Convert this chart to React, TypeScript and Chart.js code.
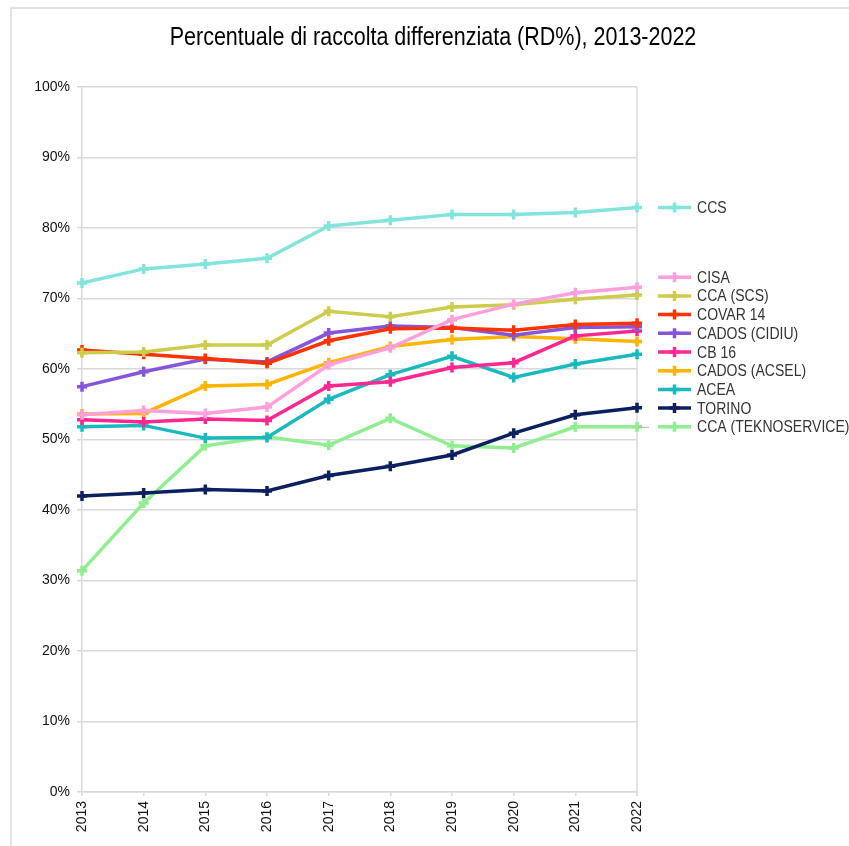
import React, { useEffect, useRef } from 'react';
import { Chart, registerables } from 'chart.js';

Chart.register(...registerables);

const TITLE = 'Percentuale di raccolta differenziata (RD%), 2013-2022';
const YEARS = ['2013', '2014', '2015', '2016', '2017', '2018', '2019', '2020', '2021', '2022'];
const Y_MIN = 0;
const Y_MAX = 100;
const Y_STEP = 10;

const CCS = [72.2, 74.2, 74.9, 75.7, 80.3, 81.1, 81.9, 81.9, 82.2, 82.9];
const CISA = [53.5, 54.1, 53.7, 54.6, 60.6, 63.0, 67.0, 69.2, 70.8, 71.6];
const CCA_SCS = [62.3, 62.4, 63.4, 63.4, 68.2, 67.4, 68.8, 69.1, 69.9, 70.5];
const COVAR_14 = [62.7, 62.1, 61.5, 60.8, 64.0, 65.7, 65.8, 65.5, 66.3, 66.5];
const CADOS_CIDIU = [57.5, 59.6, 61.4, 61.0, 65.1, 66.1, 65.9, 64.8, 65.9, 66.0];
const CB_16 = [52.8, 52.5, 52.9, 52.7, 57.6, 58.2, 60.2, 60.9, 64.7, 65.4];
const CADOS_ACSEL = [53.6, 53.7, 57.6, 57.8, 60.9, 63.2, 64.2, 64.6, 64.3, 63.9];
const ACEA = [51.8, 52.0, 50.2, 50.3, 55.7, 59.2, 61.8, 58.8, 60.7, 62.1];
const TORINO = [42.0, 42.4, 42.9, 42.7, 44.9, 46.2, 47.8, 50.9, 53.5, 54.5];
const CCA_TEKNOSERVICE = [31.4, 41.0, 49.1, 50.4, 49.2, 53.0, 49.1, 48.8, 51.8, 51.8];

const SERIES_NAMES = [
  'CCS',
  'CISA',
  'CCA (SCS)',
  'COVAR 14',
  'CADOS (CIDIU)',
  'CB 16',
  'CADOS (ACSEL)',
  'ACEA',
  'TORINO',
  'CCA (TEKNOSERVICE)',
];
const SERIES_VALUES = [
  CCS,
  CISA,
  CCA_SCS,
  COVAR_14,
  CADOS_CIDIU,
  CB_16,
  CADOS_ACSEL,
  ACEA,
  TORINO,
  CCA_TEKNOSERVICE,
];
const SERIES_COLORS = [
  '#83e4dc',
  '#ffa0dc',
  '#cccc4d',
  '#ff3300',
  '#8456d9',
  '#ff2890',
  '#ffb400',
  '#1ab9be',
  '#0c2060',
  '#90ee90',
];
const LEADER_SERIES = 'CCA (TEKNOSERVICE)';

export default function App() {
  const canvasRef = useRef<HTMLCanvasElement | null>(null);

  useEffect(() => {
    const canvas = canvasRef.current;
    if (!canvas) return;

    const family = '"Liberation Sans", Arial, sans-serif';
    const titleSize = 25;
    const titleSquash = 0.86;
    const tickSize = 14;
    const labelSize = 16.5;
    const labelSquash = 0.85;
    const gridColor = '#d9d9d9';

    const squashedText = (
      ctx: CanvasRenderingContext2D,
      text: string,
      x: number,
      y: number,
      sx: number,
    ) => {
      ctx.save();
      ctx.translate(x, y);
      ctx.scale(sx, 1);
      ctx.fillText(text, 0, 0);
      ctx.restore();
    };

    const framePlugin = {
      id: 'frameAndTitle',
      beforeDraw(chart: any) {
        const ctx = chart.ctx;
        ctx.save();
        ctx.fillStyle = '#ffffff';
        ctx.fillRect(0, 0, chart.width, chart.height);
        ctx.strokeStyle = gridColor;
        ctx.lineWidth = 1.5;
        ctx.beginPath();
        ctx.moveTo(11, chart.height);
        ctx.lineTo(11, 8);
        ctx.lineTo(chart.width, 8);
        ctx.stroke();
        ctx.fillStyle = '#000000';
        ctx.font = `${titleSize}px ${family}`;
        ctx.textAlign = 'center';
        ctx.textBaseline = 'alphabetic';
        squashedText(ctx, TITLE, 433, 45, titleSquash);
        ctx.restore();
      },
      beforeDatasetsDraw(chart: any) {
        const ctx = chart.ctx;
        const a = chart.chartArea;
        ctx.save();
        ctx.strokeStyle = gridColor;
        ctx.lineWidth = 1.5;
        ctx.beginPath();
        ctx.moveTo(a.right, a.top);
        ctx.lineTo(a.right, a.bottom + 4);
        ctx.stroke();
        ctx.restore();
      },
    };

    const drawCross = (ctx: CanvasRenderingContext2D, x: number, y: number, r: number) => {
      ctx.beginPath();
      ctx.moveTo(x - r, y);
      ctx.lineTo(x + r, y);
      ctx.moveTo(x, y - r);
      ctx.lineTo(x, y + r);
      ctx.stroke();
    };

    const endLabels = {
      id: 'endLabels',
      afterDatasetsDraw(chart: any) {
        const ctx: CanvasRenderingContext2D = chart.ctx;
        const yScale = chart.scales.y;
        const a = chart.chartArea;
        const spacing = 18.7;
        const gap = 45;
        const items = chart.data.datasets.map((ds: any) => ({
          label: ds.label as string,
          color: ds.borderColor as string,
          ideal: yScale.getPixelForValue(ds.data[ds.data.length - 1]),
          y: 0,
        }));
        items.sort((p: any, q: any) => q.ideal - p.ideal);
        let prev: number | null = null;
        for (const it of items) {
          if (prev === null) {
            it.y = it.ideal;
          } else {
            const stacked = prev - spacing;
            it.y = stacked - it.ideal > gap ? it.ideal : stacked;
          }
          prev = it.y;
        }
        ctx.save();
        for (const it of items) {
          if (it.label === LEADER_SERIES) {
            ctx.strokeStyle = '#b0b0b0';
            ctx.lineWidth = 1;
            ctx.beginPath();
            ctx.moveTo(a.right, it.y + 0.5);
            ctx.lineTo(a.right + 12, it.y + 0.5);
            ctx.stroke();
          }
          const x0 = a.right + 21;
          const x1 = a.right + 54;
          ctx.strokeStyle = it.color;
          ctx.lineWidth = 3.5;
          ctx.lineCap = 'butt';
          ctx.beginPath();
          ctx.moveTo(x0, it.y);
          ctx.lineTo(x1, it.y);
          ctx.stroke();
          drawCross(ctx, (x0 + x1) / 2, it.y, 5);
          ctx.fillStyle = '#333333';
          ctx.font = `${labelSize}px ${family}`;
          ctx.textAlign = 'left';
          ctx.textBaseline = 'middle';
          squashedText(ctx, it.label, a.right + 60, it.y + 1, labelSquash);
        }
        ctx.restore();
      },
    };

    const datasets = SERIES_NAMES.map((name, i) => ({
      label: name,
      data: SERIES_VALUES[i],
      borderColor: SERIES_COLORS[i],
      backgroundColor: SERIES_COLORS[i],
      borderWidth: 3.5,
      pointStyle: 'cross' as const,
      pointRadius: 5,
      pointBorderWidth: 3.5,
      pointBorderColor: SERIES_COLORS[i],
      pointBackgroundColor: SERIES_COLORS[i],
      tension: 0,
      fill: false,
    }));

    const chart = new Chart(canvas, {
      type: 'line',
      data: { labels: YEARS, datasets },
      options: {
        responsive: false,
        animation: false,
        devicePixelRatio: 1,
        layout: { padding: { top: 87, right: 212, left: 0, bottom: 0 } },
        plugins: {
          legend: { display: false },
          title: { display: false },
          tooltip: { enabled: false },
        },
        events: [],
        scales: {
          x: {
            type: 'category',
            offset: false,
            grid: {
              display: true,
              drawOnChartArea: false,
              drawTicks: true,
              tickLength: 4,
              color: gridColor,
              lineWidth: 1.5,
            },
            border: { display: true, color: gridColor, width: 1.5 },
            ticks: {
              minRotation: 90,
              maxRotation: 90,
              padding: 5,
              color: '#111111',
              font: { family, size: tickSize },
              autoSkip: false,
            },
            afterFit: (scale: any) => {
              scale.height = 54;
            },
          },
          y: {
            min: Y_MIN,
            max: Y_MAX,
            grid: {
              color: gridColor,
              lineWidth: 1.5,
              tickLength: 5,
              drawTicks: true,
            },
            border: { display: true, color: gridColor, width: 1.5 },
            ticks: {
              stepSize: Y_STEP,
              padding: 7,
              color: '#111111',
              font: { family, size: tickSize },
              callback: (v: any) => `${v}%`,
            },
            afterFit: (scale: any) => {
              scale.width = 82;
            },
          },
        },
      },
      plugins: [framePlugin, endLabels],
    });

    return () => {
      chart.destroy();
    };
  }, []);

  return (
    <div style={{ position: 'fixed', left: 0, top: 0, width: 849, height: 846, background: '#fff' }}>
      <canvas ref={canvasRef} width={849} height={846} style={{ display: 'block', width: 849, height: 846 }} />
    </div>
  );
}
